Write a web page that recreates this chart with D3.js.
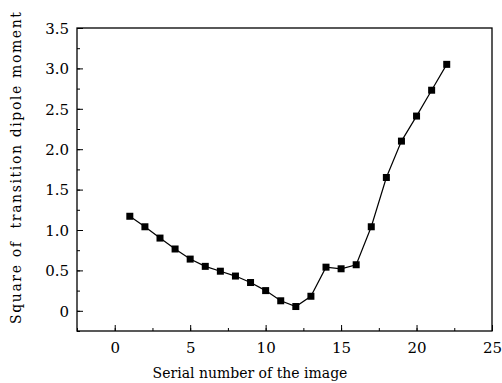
<!DOCTYPE html>
<html>
<head>
<meta charset="utf-8">
<script src="https://cdnjs.cloudflare.com/ajax/libs/d3/7.8.5/d3.min.js"></script>
<style>
  body { margin: 0; background: #fff; }
  svg { font-family: "DejaVu Serif", serif; }
</style>
</head>
<body>
<div id="chart"></div>
<script>
// image serial numbers and squared transition dipole moment
var serial = [1, 2, 3, 4, 5, 6, 7, 8, 9, 10, 11, 12, 13, 14, 15, 16, 17, 18, 19, 20, 21, 22];
var dipole = [1.17, 1.04, 0.90, 0.765, 0.64, 0.55, 0.49, 0.43, 0.35, 0.25, 0.124, 0.053,
              0.18, 0.54, 0.52, 0.57, 1.04, 1.65, 2.10, 2.41, 2.73, 3.05];
var xTicks = [0, 5, 10, 15, 20, 25];
var yTicks = [0, 0.5, 1.0, 1.5, 2.0, 2.5, 3.0, 3.5];
var yTickLabels = ["0", "0.5", "1.0", "1.5", "2.0", "2.5", "3.0", "3.5"];

var width = 502, height = 383;
var mLeft = 77, mTop = 28, mRight = 492, mBottom = 331;

var svg = d3.select("#chart").append("svg")
    .attr("width", width)
    .attr("height", height);

var x = d3.scaleLinear().domain([-2.5, 25]).range([mLeft, mRight]);
var y = d3.scaleLinear().domain([-0.25, 3.5]).range([mBottom, mTop]);

// minor ticks
var xMinor = d3.range(-2.5, 25, 2.5);
var yMinor = d3.range(-0.25, 3.5, 0.25);

svg.append("g")
    .attr("transform", "translate(0," + mBottom + ")")
    .call(d3.axisTop(x).tickValues(xMinor).tickSize(3).tickFormat(""))
    .call(function(g) { g.select(".domain").remove(); });

svg.append("g")
    .attr("transform", "translate(" + mLeft + ",0)")
    .call(d3.axisRight(y).tickValues(yMinor).tickSize(3).tickFormat(""))
    .call(function(g) { g.select(".domain").remove(); });

// major ticks, inward, labels outside
var gx = svg.append("g")
    .attr("transform", "translate(0," + mBottom + ")")
    .call(d3.axisTop(x).tickValues(xTicks).tickSize(6).tickFormat(d3.format("d")));
gx.select(".domain").remove();
gx.selectAll("text")
    .attr("y", 22)
    .attr("dy", 0)
    .attr("font-size", 15)
    .attr("font-family", "DejaVu Serif");

var gy = svg.append("g")
    .attr("transform", "translate(" + mLeft + ",0)")
    .call(d3.axisRight(y).tickValues(yTicks).tickSize(6)
        .tickFormat(function(d, i) { return yTickLabels[i]; }));
gy.select(".domain").remove();
gy.selectAll("text")
    .attr("x", -8)
    .attr("text-anchor", "end")
    .attr("dy", "0.35em")
    .attr("font-size", 15)
    .attr("font-family", "DejaVu Serif");

svg.selectAll(".tick line").attr("stroke", "#000").attr("stroke-width", 1);

// frame
svg.append("rect")
    .attr("x", mLeft)
    .attr("y", mTop)
    .attr("width", mRight - mLeft)
    .attr("height", mBottom - mTop)
    .attr("fill", "none")
    .attr("stroke", "#000")
    .attr("stroke-width", 1.3);

var line = d3.line()
    .x(function(d, i) { return x(serial[i]); })
    .y(function(d) { return y(d); });

svg.append("path")
    .datum(dipole)
    .attr("d", line)
    .attr("fill", "none")
    .attr("stroke", "#000")
    .attr("stroke-width", 1.2);

svg.selectAll(".pt")
    .data(dipole)
    .enter()
    .append("rect")
    .attr("class", "pt")
    .attr("x", function(d, i) { return x(serial[i]) - 3.5; })
    .attr("y", function(d) { return y(d) - 3.5; })
    .attr("width", 7)
    .attr("height", 7)
    .attr("fill", "#000");

svg.append("text")
    .attr("x", 250)
    .attr("y", 378)
    .attr("text-anchor", "middle")
    .attr("font-size", 14)
    .text("Serial number of the image");

svg.append("text")
    .attr("transform", "translate(21,168) rotate(-90)")
    .attr("text-anchor", "middle")
    .attr("font-size", 14)
    .attr("textLength", 312)
    .attr("xml:space", "preserve")
    .text("Square of  transition dipole moment");
</script>
</body>
</html>
